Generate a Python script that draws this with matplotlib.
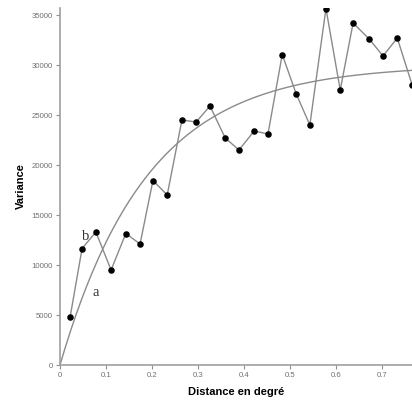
import matplotlib
matplotlib.use("Agg")
import matplotlib.pyplot as plt
import numpy as np

dist = [0.022, 0.048, 0.078, 0.111, 0.143, 0.174, 0.202, 0.233, 0.265, 0.296,
        0.326, 0.359, 0.389, 0.422, 0.452, 0.483, 0.513, 0.543, 0.578, 0.609,
        0.637, 0.672, 0.702, 0.733, 0.765]
variance = [4800, 11650, 13300, 9500, 13150, 12100, 18450, 17000, 24500, 24300,
            25900, 22700, 21500, 23400, 23100, 31050, 27150, 24000, 35650, 27500,
            34200, 32600, 30900, 32700, 28050]

# fitted exponential model (a)
sill = 30000
rng = 0.19

xticks = [0, 0.1, 0.2, 0.3, 0.4, 0.5, 0.6, 0.7]
yticks = [0, 5000, 10000, 15000, 20000, 25000, 30000, 35000]

plt.rcParams['font.family'] = ['Liberation Sans', 'DejaVu Sans']

fig = plt.figure(figsize=(4.12, 4.04), dpi=100)
ax = fig.add_axes([60/412, 39/404, 352/412, 357/404])

h = np.linspace(0, 0.765, 200)
ax.plot(h, sill*(1-np.exp(-h/rng)), color='#8a8a8a', lw=1.0)
ax.plot(dist, variance, color='#8a8a8a', lw=1.0, marker='o',
        markersize=3.7, markerfacecolor='black', markeredgecolor='black')

ax.text(0.056, 12900, 'b', family='Liberation Serif', fontsize=10.5, color='#333333',
        ha='center', va='center')
ax.text(0.078, 7300, 'a', family='Liberation Serif', fontsize=10.5, color='#333333',
        ha='center', va='center')

ax.set_xlim(0, 0.765)
ax.set_ylim(0, 35700)
ax.set_xticks(xticks)
ax.set_xticklabels([str(t) if t else '0' for t in xticks])
ax.set_yticks(yticks)
ax.tick_params(direction='out', length=3, width=0.8, color='#909090',
               labelcolor='#707070', labelsize=5.6, pad=2)
for s in ['top', 'right']:
    ax.spines[s].set_visible(False)
for s in ['left', 'bottom']:
    ax.spines[s].set_color('#a0a0a0')
    ax.spines[s].set_linewidth(1.2)

ax.set_xlabel('Distance en degré', fontsize=8, fontweight='bold', labelpad=6)
ax.set_ylabel('Variance', fontsize=8, fontweight='bold', labelpad=4)

fig.savefig('out.png', dpi=100)
